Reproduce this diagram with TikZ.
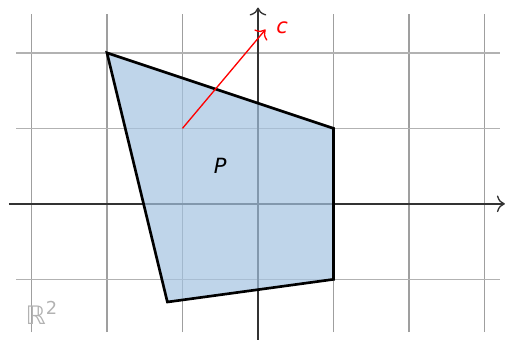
\documentclass[tikz,border=0pt]{standalone}
\usepackage{fontspec}
\setmainfont{DejaVu Sans}
\usetikzlibrary{arrows.meta}
\definecolor{polyfill}{RGB}{164,195,225}

\begin{document}
\begin{tikzpicture}[font=\fontsize{7.9}{9}\selectfont]
      \useasboundingbox (-3.417,-1.79) rectangle (3.285,2.70);
      % grid
      \foreach \x in {-3,...,3}
        \draw[gray!75,line width=0.5pt] (\x,-1.7) -- (\x,2.52);
      \foreach \y in {-1,...,2}
        \draw[gray!60,line width=0.5pt] (-3.2,\y) -- (3.2,\y);
      % axes
      \draw[black!80,line width=0.5pt,-{To[length=3pt]}] (-3.3,0) -- (3.27,0);
      \draw[black!80,line width=0.5pt,-{To[length=3pt]}] (0,-1.8) -- (0,2.6);
      % polytope
      \draw[line width=1pt,fill=polyfill,fill opacity=0.7] (-2,2) -- (1,1) -- (1,-1) -- (-1.2,-1.3) -- cycle;
      \node (P) at (-0.5,0.5) {\textit{P}};
      % objective
      \coordinate (c0) at (-1,1);
      \coordinate (c1) at (0.1,2.31);
      \draw[red,line width=0.5pt,-{To[length=3pt]}] (c0) -- (c1);
      \node[red] (c) at (0.32,2.33) {\textit{c}};
      \node[gray!60,font=\fontsize{9.6}{11}\selectfont] (R2) at (-2.86,-1.44) {ℝ\textsuperscript{2}};
    \end{tikzpicture}
\end{document}
